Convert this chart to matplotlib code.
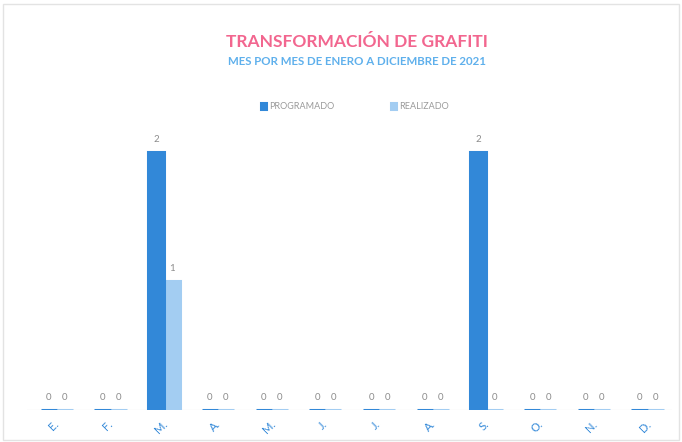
import numpy as np
import matplotlib.pyplot as plt
from matplotlib.patches import Rectangle

plt.rcParams['font.family'] = ['Lato', 'DejaVu Sans']

months = ["E.", "F.", "M.", "A.", "M.", "J.", "J.", "A.", "S.", "O.", "N.", "D."]
programado = [0, 0, 2, 0, 0, 0, 0, 0, 2, 0, 0, 0]
realizado = [0, 0, 1, 0, 0, 0, 0, 0, 0, 0, 0, 0]

c_prog = "#3288d8"
c_real = "#a3cdf2"

fig = plt.figure(figsize=(6.82, 4.42), dpi=100)
fig.patches.append(Rectangle((0.005, 0.005), 0.99, 0.985, transform=fig.transFigure,
                             fill=False, edgecolor="#e3e3e3", linewidth=1))
ax = fig.add_axes([0.04, 0.072, 0.945, 0.633])

x = np.arange(len(months))
w = 0.3
b1 = ax.bar(x - 0.1, programado, w, color=c_prog, edgecolor=c_prog, linewidth=2.2, zorder=3)
b2 = ax.bar(x + 0.2, realizado, w, color=c_real, edgecolor=c_real, linewidth=2.2, zorder=2)

ax.bar_label(b1, padding=6, fontsize=7, color="#8c8c8c")
ax.bar_label(b2, padding=6, fontsize=7, color="#8c8c8c")

ax.axhline(0, color="#d6d6d6", linewidth=0.8, zorder=1)
ax.set_xlim(-0.5, len(months) - 0.5)
ax.set_ylim(0, 2.17)
ax.set_yticks([])
ax.set_xticks(x)
ax.set_xticklabels(months, rotation=45, fontsize=8, color=c_prog)
ax.tick_params(axis="x", length=0, pad=6)
for s in ax.spines.values():
    s.set_visible(False)

fig.text(0.523, 0.905, "TRANSFORMACIÓN DE GRAFITI", ha="center", va="center",
         fontsize=12.5, fontweight="bold", color="#f2668f")
fig.text(0.523, 0.86, "MES POR MES DE ENERO A DICIEMBRE DE 2021", ha="center", va="center",
         fontsize=8.3, fontweight="bold", color="#5fb0ec")

leg = fig.legend([b1, b2], ["PROGRAMADO", "REALIZADO"], loc="center", bbox_to_anchor=(0.52, 0.758),
                 ncol=2, frameon=False, fontsize=6.5, handlelength=0.6, handleheight=0.6,
                 columnspacing=6.3, handletextpad=0.3)
for t in leg.get_texts():
    t.set_color("#9a9a9a")

plt.savefig("out.png", dpi=100)
